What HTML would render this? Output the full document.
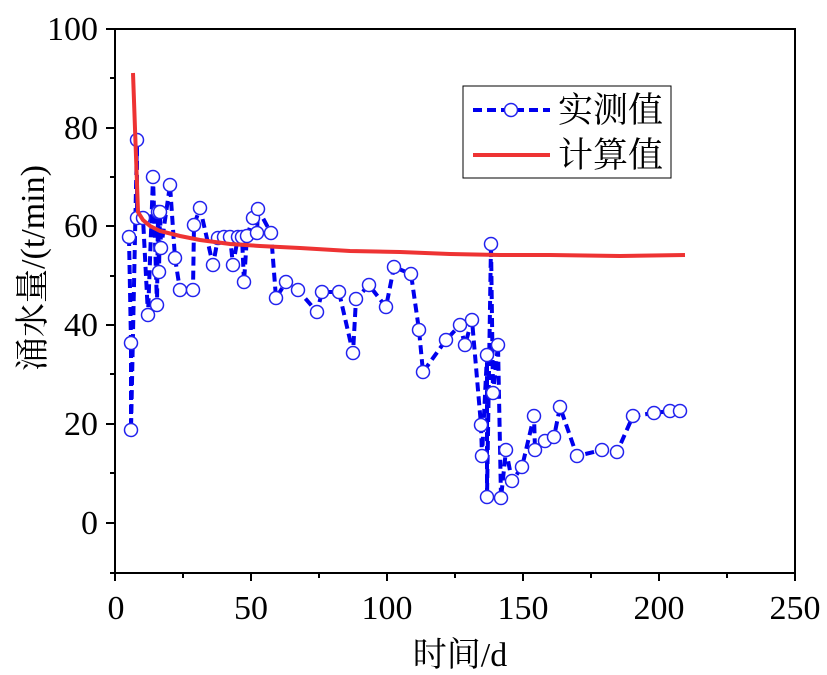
<!DOCTYPE html><html><head><meta charset="utf-8"><style>body{margin:0;background:#fff}svg{display:block}</style></head><body>
<svg width="827" height="675" xmlns="http://www.w3.org/2000/svg" font-family="'Liberation Serif','Noto Serif CJK SC',serif">
<rect width="827" height="675" fill="#fff"/>
<rect x="115" y="29" width="680" height="544" fill="none" stroke="#000" stroke-width="2"/>
<g stroke="#000" stroke-width="2">
<line x1="115" y1="573" x2="115" y2="581"/><line x1="251" y1="573" x2="251" y2="581"/><line x1="387" y1="573" x2="387" y2="581"/><line x1="523" y1="573" x2="523" y2="581"/><line x1="659" y1="573" x2="659" y2="581"/><line x1="795" y1="573" x2="795" y2="581"/>
<line x1="183" y1="573" x2="183" y2="578"/><line x1="319" y1="573" x2="319" y2="578"/><line x1="455" y1="573" x2="455" y2="578"/><line x1="591" y1="573" x2="591" y2="578"/><line x1="727" y1="573" x2="727" y2="578"/>
<line x1="106" y1="29" x2="115" y2="29"/><line x1="106" y1="128" x2="115" y2="128"/><line x1="106" y1="226" x2="115" y2="226"/><line x1="106" y1="325" x2="115" y2="325"/><line x1="106" y1="424" x2="115" y2="424"/><line x1="106" y1="523" x2="115" y2="523"/>
<line x1="110" y1="78" x2="115" y2="78"/><line x1="110" y1="177" x2="115" y2="177"/><line x1="110" y1="276" x2="115" y2="276"/><line x1="110" y1="374" x2="115" y2="374"/><line x1="110" y1="473" x2="115" y2="473"/><line x1="110" y1="573" x2="115" y2="573"/>
</g>
<g font-size="34" text-anchor="middle" fill="#000">
<text x="116" y="619">0</text><text x="251" y="619">50</text><text x="387" y="619">100</text><text x="523" y="619">150</text><text x="659" y="619">200</text><text x="795" y="619">250</text>
</g>
<g font-size="34" text-anchor="end" fill="#000">
<text x="98" y="40">100</text><text x="98" y="139">80</text><text x="98" y="237">60</text><text x="98" y="336">40</text><text x="98" y="435">20</text><text x="98" y="534">0</text>
</g>
<text x="460" y="666" font-size="34" text-anchor="middle">时间/d</text>
<text transform="translate(44,268) rotate(-90)" font-size="34" text-anchor="middle">涌水量/(t/min)</text>
<polyline fill="none" stroke="#0000ee" stroke-width="4" stroke-dasharray="9,5" points="129,237 131,343 131,430 137,140 137,218 143,218 148,315 153,177 157,305 158,212 159,272 160,212 161,248 170,185 175,258 180,290 193,290 194,225 200,208 213,265 218,238 224,237 230,237 233,265 238,237 242,237 244,282 247,236 253,218 257,233 258,209 271,233 276,298 286,282 298,290 317,312 322,292 339,292 353,353 356,299 369,285 386,307 394,267 411,274 419,330 423,372 446,340 460,325 465,345 472,320 481,425 482,456 487,355 487,497 491,244 493,393 498,345 501,498 506,450 512,481 522,467 534,416 535,450 545,441 554,437 560,407 577,456 602,450 617,452 633,416 654,413 670,411 680,411"/>
<g fill="#fff" stroke="#2222ee" stroke-width="1.5">
<circle cx="129" cy="237" r="6.5"/><circle cx="131" cy="343" r="6.5"/><circle cx="131" cy="430" r="6.5"/><circle cx="137" cy="140" r="6.5"/><circle cx="137" cy="218" r="6.5"/><circle cx="143" cy="218" r="6.5"/><circle cx="148" cy="315" r="6.5"/><circle cx="153" cy="177" r="6.5"/><circle cx="157" cy="305" r="6.5"/><circle cx="158" cy="212" r="6.5"/><circle cx="159" cy="272" r="6.5"/><circle cx="160" cy="212" r="6.5"/><circle cx="161" cy="248" r="6.5"/><circle cx="170" cy="185" r="6.5"/><circle cx="175" cy="258" r="6.5"/><circle cx="180" cy="290" r="6.5"/><circle cx="193" cy="290" r="6.5"/><circle cx="194" cy="225" r="6.5"/><circle cx="200" cy="208" r="6.5"/><circle cx="213" cy="265" r="6.5"/><circle cx="218" cy="238" r="6.5"/><circle cx="224" cy="237" r="6.5"/><circle cx="230" cy="237" r="6.5"/><circle cx="233" cy="265" r="6.5"/><circle cx="238" cy="237" r="6.5"/><circle cx="242" cy="237" r="6.5"/><circle cx="244" cy="282" r="6.5"/><circle cx="247" cy="236" r="6.5"/><circle cx="253" cy="218" r="6.5"/><circle cx="257" cy="233" r="6.5"/><circle cx="258" cy="209" r="6.5"/><circle cx="271" cy="233" r="6.5"/><circle cx="276" cy="298" r="6.5"/><circle cx="286" cy="282" r="6.5"/><circle cx="298" cy="290" r="6.5"/><circle cx="317" cy="312" r="6.5"/><circle cx="322" cy="292" r="6.5"/><circle cx="339" cy="292" r="6.5"/><circle cx="353" cy="353" r="6.5"/><circle cx="356" cy="299" r="6.5"/><circle cx="369" cy="285" r="6.5"/><circle cx="386" cy="307" r="6.5"/><circle cx="394" cy="267" r="6.5"/><circle cx="411" cy="274" r="6.5"/><circle cx="419" cy="330" r="6.5"/><circle cx="423" cy="372" r="6.5"/><circle cx="446" cy="340" r="6.5"/><circle cx="460" cy="325" r="6.5"/><circle cx="465" cy="345" r="6.5"/><circle cx="472" cy="320" r="6.5"/><circle cx="481" cy="425" r="6.5"/><circle cx="482" cy="456" r="6.5"/><circle cx="487" cy="355" r="6.5"/><circle cx="487" cy="497" r="6.5"/><circle cx="491" cy="244" r="6.5"/><circle cx="493" cy="393" r="6.5"/><circle cx="498" cy="345" r="6.5"/><circle cx="501" cy="498" r="6.5"/><circle cx="506" cy="450" r="6.5"/><circle cx="512" cy="481" r="6.5"/><circle cx="522" cy="467" r="6.5"/><circle cx="534" cy="416" r="6.5"/><circle cx="535" cy="450" r="6.5"/><circle cx="545" cy="441" r="6.5"/><circle cx="554" cy="437" r="6.5"/><circle cx="560" cy="407" r="6.5"/><circle cx="577" cy="456" r="6.5"/><circle cx="602" cy="450" r="6.5"/><circle cx="617" cy="452" r="6.5"/><circle cx="633" cy="416" r="6.5"/><circle cx="654" cy="413" r="6.5"/><circle cx="670" cy="411" r="6.5"/><circle cx="680" cy="411" r="6.5"/>
</g>
<polyline fill="none" stroke="#ee3333" stroke-width="4" points="133,73 138,212 143,220 150,226 160,231 180,236 200,240 230,244 260,246 300,248 350,251 400,252 450,254 500,255 550,255 620,256 685,255"/>
<rect x="463" y="86" width="208" height="92" fill="#fff" stroke="#000" stroke-width="1"/>
<line x1="473" y1="110" x2="550" y2="110" stroke="#0000ee" stroke-width="4" stroke-dasharray="9,5"/>
<circle cx="511" cy="110" r="6.5" fill="#fff" stroke="#2222ee" stroke-width="1.5"/>
<line x1="473" y1="155" x2="550" y2="155" stroke="#ee3333" stroke-width="4"/>
<text x="558" y="122" font-size="35">实测值</text>
<text x="558" y="167" font-size="35">计算值</text>
</svg>
</body></html>
